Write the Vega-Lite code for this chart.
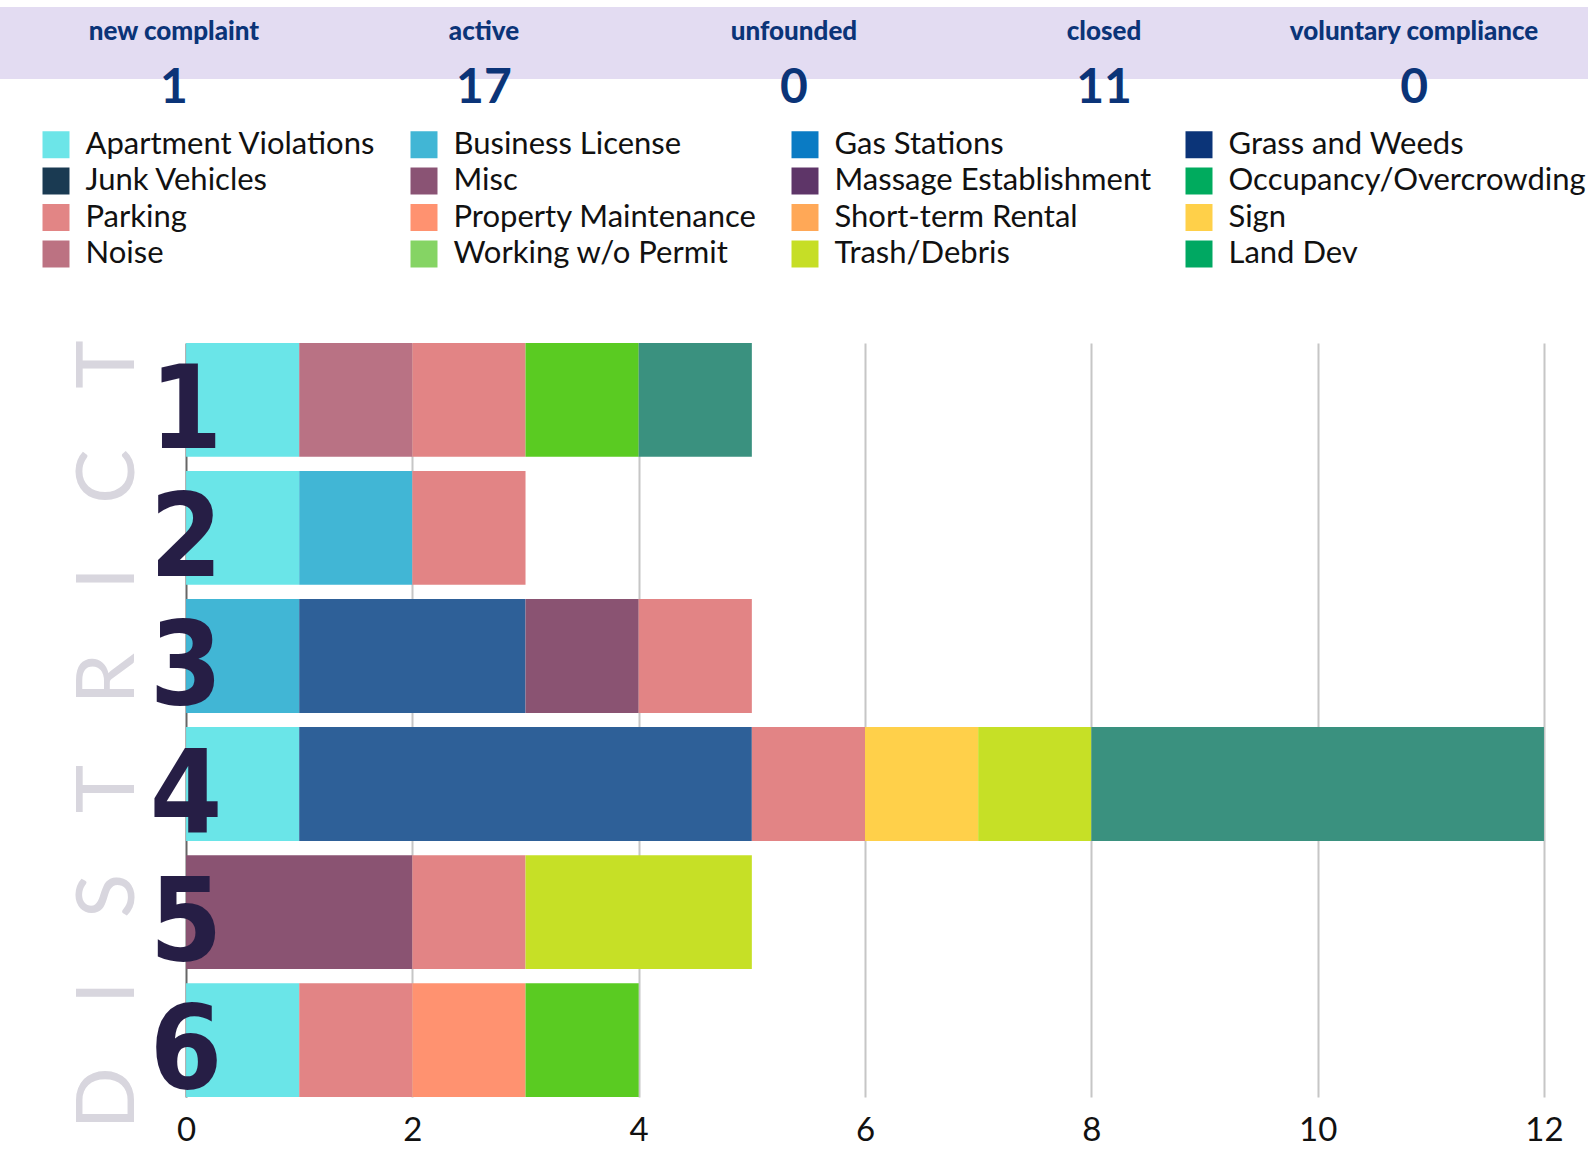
{
  "$schema": "https://vega.github.io/schema/vega-lite/v6.json",
  "padding": {"left": 0, "right": 0, "top": 7, "bottom": 0},
  "background": "white",
  "bounds": "flush",
  "spacing": 264,
  "config": {"view": {"stroke": null}},
  "resolve": {"scale": {"color": "independent", "x": "independent", "y": "independent"}, "legend": {"color": "independent"}},
  "vconcat": [
    {
      "width": 1588,
      "height": 72,
      "view": {"fill": "#E3DCF2", "stroke": null},
      "data": {"values": [
        {"status": "new complaint", "count": 1},
        {"status": "active", "count": 17},
        {"status": "unfounded", "count": 0},
        {"status": "closed", "count": 11},
        {"status": "voluntary compliance", "count": 0}
      ]},
      "layer": [
        {
          "mark": {"type": "text", "font": "Lato", "fontWeight": 900, "fontSize": 26, "color": "#0B3478", "baseline": "middle", "dy": -10.6},
          "encoding": {
            "x": {"field": "status", "type": "nominal", "sort": null, "scale": {"type": "point", "padding": 0.561}, "axis": null},
            "text": {"field": "status"}
          }
        },
        {
          "mark": {"type": "text", "font": "Lato", "fontWeight": "bold", "fontSize": 48, "color": "#0B3478", "baseline": "middle", "dy": 46},
          "encoding": {
            "x": {"field": "status", "type": "nominal", "sort": null, "scale": {"type": "point", "padding": 0.561}, "axis": null},
            "text": {"field": "count"}
          }
        },
        {
          "data": {"values": [
            {"category": "Apartment Violations"}, {"category": "Business License"}, {"category": "Gas Stations"}, {"category": "Grass and Weeds"},
            {"category": "Junk Vehicles"}, {"category": "Misc"}, {"category": "Massage Establishment"}, {"category": "Occupancy/Overcrowding"},
            {"category": "Parking"}, {"category": "Property Maintenance"}, {"category": "Short-term Rental"}, {"category": "Sign"},
            {"category": "Noise"}, {"category": "Working w/o Permit"}, {"category": "Trash/Debris"}, {"category": "Land Dev"}
          ]},
          "mark": {"type": "square", "opacity": 0},
          "encoding": {
            "color": {
              "field": "category", "type": "nominal",
              "scale": {
                "domain": ["Apartment Violations", "Junk Vehicles", "Parking", "Noise", "Business License", "Misc", "Property Maintenance", "Working w/o Permit", "Gas Stations", "Massage Establishment", "Short-term Rental", "Trash/Debris", "Grass and Weeds", "Occupancy/Overcrowding", "Sign", "Land Dev"],
                "range": ["#6CE5E8", "#1A3A52", "#E28585", "#BC7282", "#41B6D5", "#8A5374", "#FF9270", "#85D464", "#0A7BC4", "#5E3568", "#FFA857", "#C6DE26", "#0B3478", "#00AB5E", "#FFD049", "#00A862"]
              },
              "legend": {
                "orient": "none", "legendX": 40.5, "legendY": 122, "columns": 4, "title": null, "padding": 0,
                "symbolType": "square", "symbolSize": 729, "symbolOpacity": 1, "symbolStrokeWidth": 0,
                "labelFont": "Lato", "labelFontSize": 31, "labelColor": "#111111", "labelLimit": 1000, "labelOffset": 14,
                "rowPadding": 4.5, "columnPadding": 32, "gridAlign": "each"
              }
            }
          }
        }
      ]
    },
    {
      "width": 1588,
      "height": 754,
      "data": {"values": [
        {"district": 1, "category": "Apartment Violations", "count": 1},
        {"district": 1, "category": "Noise", "count": 1},
        {"district": 1, "category": "Parking", "count": 1},
        {"district": 1, "category": "Working w/o Permit", "count": 1},
        {"district": 1, "category": "Land Dev", "count": 1},
        {"district": 2, "category": "Apartment Violations", "count": 1},
        {"district": 2, "category": "Business License", "count": 1},
        {"district": 2, "category": "Parking", "count": 1},
        {"district": 3, "category": "Business License", "count": 1},
        {"district": 3, "category": "Grass and Weeds", "count": 2},
        {"district": 3, "category": "Misc", "count": 1},
        {"district": 3, "category": "Parking", "count": 1},
        {"district": 4, "category": "Apartment Violations", "count": 1},
        {"district": 4, "category": "Grass and Weeds", "count": 4},
        {"district": 4, "category": "Parking", "count": 1},
        {"district": 4, "category": "Sign", "count": 1},
        {"district": 4, "category": "Trash/Debris", "count": 1},
        {"district": 4, "category": "Land Dev", "count": 4},
        {"district": 5, "category": "Misc", "count": 2},
        {"district": 5, "category": "Parking", "count": 1},
        {"district": 5, "category": "Trash/Debris", "count": 2},
        {"district": 6, "category": "Apartment Violations", "count": 1},
        {"district": 6, "category": "Parking", "count": 1},
        {"district": 6, "category": "Property Maintenance", "count": 1},
        {"district": 6, "category": "Working w/o Permit", "count": 1}
      ]},
      "layer": [
        {
          "transform": [
            {"calculate": "indexof(['Apartment Violations', 'Business License', 'Grass and Weeds', 'Misc', 'Noise', 'Parking', 'Property Maintenance', 'Sign', 'Trash/Debris', 'Working w/o Permit', 'Land Dev'], datum.category)", "as": "stack_order"}
          ],
          "mark": {"type": "bar"},
          "encoding": {
            "y": {"field": "district", "type": "ordinal", "scale": {"paddingInner": 0.111, "paddingOuter": 0}, "axis": null},
            "x": {
              "field": "count", "type": "quantitative", "stack": "zero",
              "scale": {"domain": [-1.644, 12.389], "nice": false, "zero": false},
              "axis": {
                "values": [0, 2, 4, 6, 8, 10, 12], "format": "d", "title": null, "domain": false, "ticks": false, "tickSize": 0,
                "grid": true, "gridWidth": 2,
                "gridColor": {"condition": {"test": "datum.value === 0", "value": "#666666"}, "value": "#C6C6C6"},
                "labelFont": "Lato", "labelFontSize": 33, "labelColor": "#111111", "labelBaseline": "middle", "labelPadding": 33
              }
            },
            "order": {"field": "stack_order", "type": "quantitative", "sort": "ascending"},
            "color": {
              "field": "category", "type": "nominal",
              "scale": {
                "domain": ["Apartment Violations", "Business License", "Grass and Weeds", "Misc", "Noise", "Parking", "Property Maintenance", "Sign", "Trash/Debris", "Working w/o Permit", "Land Dev"],
                "range": ["#6AE5E8", "#41B6D5", "#2E6098", "#8A5372", "#B97284", "#E28485", "#FF9270", "#FFD04A", "#C6E026", "#5ACB22", "#3A917F"]
              },
              "legend": null
            }
          }
        },
        {
          "transform": [{"aggregate": [{"op": "count", "as": "n"}], "groupby": ["district"]}],
          "mark": {"type": "text", "font": "'DejaVu Sans Condensed', Roboto, 'DejaVu Sans', sans-serif", "fontWeight": "bold", "fontSize": 116, "color": "#261E45", "align": "center", "baseline": "alphabetic", "dy": 48},
          "encoding": {
            "y": {"field": "district", "type": "ordinal"},
            "x": {"datum": 0},
            "text": {"field": "district", "type": "ordinal"}
          }
        },
        {
          "data": {"values": [{"label": "D\u00a0\u00a0\u00a0I\u00a0\u00a0\u00a0S\u00a0\u00a0\u00a0T\u00a0\u00a0\u00a0R\u00a0\u00a0\u00a0I\u00a0\u00a0\u00a0C\u00a0\u00a0\u00a0T"}]},
          "mark": {"type": "text", "font": "Lato", "fontWeight": 400, "fontSize": 82, "color": "#D8D6DE", "angle": 270, "align": "center", "baseline": "middle", "dx": -15},
          "encoding": {
            "x": {"datum": -0.68},
            "text": {"field": "label"}
          }
        }
      ]
    }
  ]
}
